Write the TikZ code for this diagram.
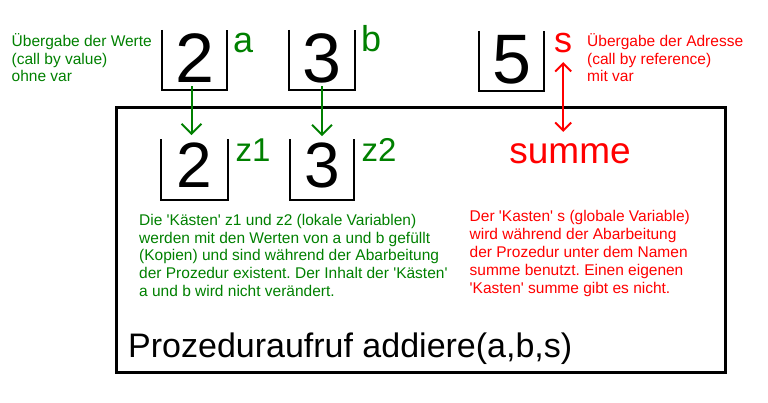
\documentclass[tikz,border=0pt]{standalone}
\usepackage{fontspec}
\setmainfont{Liberation Sans}
\usepackage{xcolor}
\usepackage{tikz}
\usetikzlibrary{positioning}
\usetikzlibrary{arrows.meta}
\definecolor{darkgreen}{RGB}{0,128,0}
\tikzset{>={Straight Barb[width=20pt,length=10pt]}}
\frenchspacing

\begin{document}
\begin{tikzpicture}[x=1pt, y=-1pt, cell/.style={inner sep=0pt, minimum width=65pt, minimum height=60pt, text depth=4pt, font=\fontsize{70}{70}\selectfont}, smallcell/.style={cell, text depth=8pt, font=\fontsize{64}{64}\selectfont}, varname/.style={inner sep=0pt, anchor=base west, font=\fontsize{36}{36}\selectfont}, localname/.style={varname, font=\fontsize{33}{33}\selectfont}, note/.style={inner sep=0pt, anchor=base west, align=left, font=\fontsize{15.5}{17.8}\selectfont}, open/.style={line width=2pt}, pass/.style={->, darkgreen, line width=2pt}, ref/.style={<->, red, line width=2pt, >={Straight Barb[width=16pt,length=8pt]}}]
    \useasboundingbox (0,0) rectangle (768,402);

    %Frame
    \node[draw, line width=3pt, minimum width=609pt, minimum height=265pt, inner sep=0pt](frame) at (420.5,239.5){};

    %Boxes
    \node[cell](box_a) at (194.5,60){2};
    \node[cell](box_b) at (322,60){3};
    \node[cell](box_s) at (511.5,61){5};
    \node[smallcell, minimum width=66pt](box_z1)[below=49pt of box_a]{2};
    \node[smallcell, minimum width=64pt](box_z2)[below=49pt of box_b]{3};
    \foreach \b in {box_a,box_b,box_s,box_z1,box_z2}
        \draw[open] (\b.north west) -- (\b.south west) -- (\b.south east) -- (\b.north east);

    %Names
    \node[varname, darkgreen](lab_a) at (233,52){a};
    \node[varname, darkgreen](lab_b) at (361,51){b};
    \node[varname, red](lab_s) at (554,52.5){s};
    \node[localname, darkgreen](lab_z1) at (235.5,161){z1};
    \node[localname, darkgreen](lab_z2) at (361.5,161){z2};
    \node[red, inner sep=0pt, anchor=base, font=\fontsize{37}{37}\selectfont](summe) at (570,163){summe};

    %Notes (base = last line)
    \node[note, darkgreen, font=\fontsize{15.5}{17.4}\selectfont](note_value) at (11.5,81.7){Übergabe der Werte\\(call by value)\\ohne var};
    \node[note, red, font=\fontsize{15.5}{17.4}\selectfont](note_ref) at (587,81.7){Übergabe der Adresse\\(call by reference)\\mit var};
    \node[note, darkgreen](note_local) at (139,296.5){Die \textquotesingle Kästen\textquotesingle{} z1 und z2 (lokale Variablen)\\werden mit den Werten von a und b gefüllt\\(Kopien) und sind während der Abarbeitung\\der Prozedur existent. Der Inhalt der \textquotesingle Kästen\textquotesingle\\a und b wird nicht verändert.};
    \node[note, red, font=\fontsize{15.5}{18}\selectfont](note_global) at (469.5,293.5){Der \textquotesingle Kasten\textquotesingle{} s (globale Variable)\\wird während der Abarbeitung\\der Prozedur unter dem Namen\\summe benutzt. Einen eigenen\\\textquotesingle Kasten\textquotesingle{} summe gibt es nicht.};
    \node[inner sep=0pt, anchor=base west, font=\fontsize{34}{34}\selectfont](title) at (128,357){Prozeduraufruf addiere(a,b,s)};

    %Lines
    \draw[pass] ([xshift=-3pt,yshift=4pt]box_a.south) -- ([xshift=-3pt,yshift=4pt]box_z1.north);
    \draw[pass] ([yshift=4pt]box_b.south) -- ([yshift=3pt]box_z2.north);
    \draw[ref] ([yshift=-9pt]lab_s.south) -- ([yshift=11pt]lab_s.south |- summe.north);
\end{tikzpicture}
\end{document}
